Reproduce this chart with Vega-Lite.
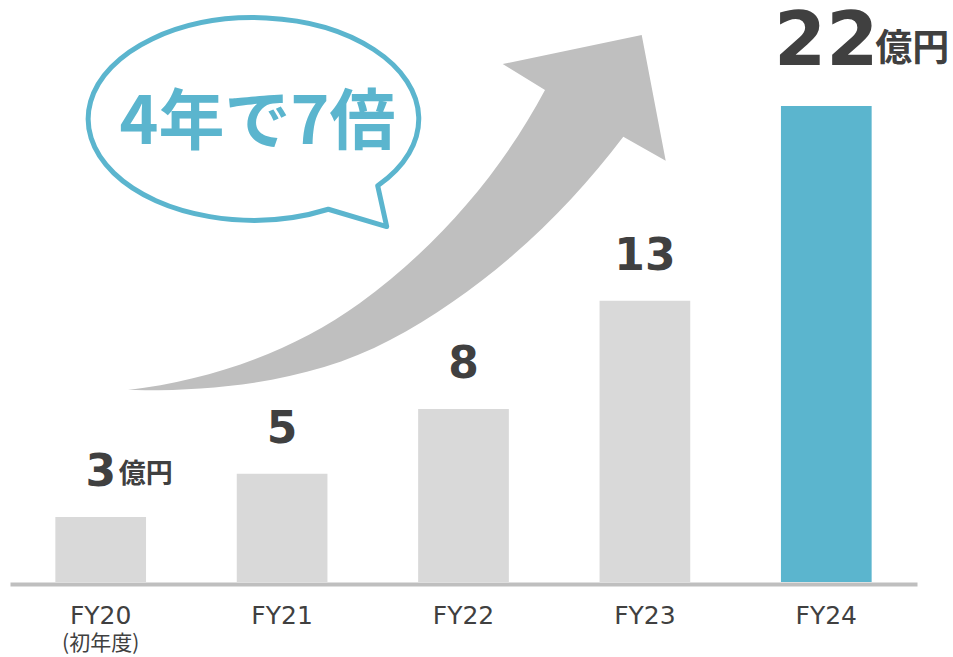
{
  "$schema": "https://vega.github.io/schema/vega-lite/v6.json",
  "width": 907,
  "height": 572,
  "autosize": {"type": "none"},
  "padding": {"left": 10, "top": 10, "right": 36, "bottom": 75},
  "background": "#ffffff",
  "config": {
    "view": {"stroke": null},
    "axisX": {
      "title": null,
      "ticks": false,
      "grid": false,
      "domainColor": "#BFBFBF",
      "domainWidth": 4,
      "offset": 2,
      "labelFont": "DejaVu Sans",
      "labelFontSize": 25,
      "labelColor": "#404040",
      "labelBaseline": "alphabetic",
      "labelPadding": 39,
      "labelAngle": 0
    }
  },
  "datasets": {
    "sales": [
      {"year": "FY20", "value": 3, "unit": "億円", "note": "(初年度)"},
      {"year": "FY21", "value": 5, "unit": "", "note": ""},
      {"year": "FY22", "value": 8, "unit": "", "note": ""},
      {"year": "FY23", "value": 13, "unit": "", "note": ""},
      {"year": "FY24", "value": 22, "unit": "億円", "note": ""}
    ],
    "arrow": [{"u": 3.1643, "v": 21.654}],
    "bubble": [{"u": 1.3671, "v": 21.492}],
    "bubbleText": [{"u": 1.3644, "v": 20.267, "label": "4年で7倍"}]
  },
  "layer": [
    {
      "layer": [
        {
          "data": {"name": "arrow"},
          "mark": {"type": "point", "shape": "M -456 276.5 C -373.6 266.7 -291.2 238.3 -224 189.5 C -148 134.2 -83.1 59.5 -39 -23.5 L -81.3 -49.5 L 57.7 -78.5 L 81.7 47.2 L 39.3 23.2 C -23 105.8 -103 178.1 -194 226.5 C -272.6 268.3 -367 278 -456 276.5 Z", "size": 4, "filled": true, "color": "#BFBFBF", "fill": "#BFBFBF", "strokeWidth": 0, "opacity": 1},
          "encoding": {
            "x": {"field": "u", "type": "quantitative", "scale": {"domain": [0, 5], "nice": false, "zero": false}, "axis": null},
            "y": {"field": "v", "type": "quantitative", "scale": {"domain": [0, 26.44], "nice": false, "zero": true}, "axis": null}
          }
        },
        {
          "data": {"name": "bubble"},
          "mark": {"type": "point", "shape": "M 119.7 68.7 A 165.3 101.3 0 1 0 70.3 92.2 L 128.7 109.5 Z", "size": 4, "filled": false, "fill": "#ffffff", "stroke": "#5BB5CE", "strokeWidth": 5, "strokeJoin": "round", "opacity": 1},
          "encoding": {
            "x": {"field": "u", "type": "quantitative", "scale": {"domain": [0, 5], "nice": false, "zero": false}, "axis": null},
            "y": {"field": "v", "type": "quantitative", "scale": {"domain": [0, 26.44], "nice": false, "zero": true}, "axis": null}
          }
        },
        {
          "data": {"name": "bubbleText"},
          "mark": {"type": "text", "font": "Noto Sans CJK JP", "fontWeight": "bold", "fontSize": 66, "color": "#5BB5CE", "align": "center", "baseline": "alphabetic"},
          "encoding": {
            "x": {"field": "u", "type": "quantitative", "scale": {"domain": [0, 5], "nice": false, "zero": false}, "axis": null},
            "y": {"field": "v", "type": "quantitative", "scale": {"domain": [0, 26.44], "nice": false, "zero": true}, "axis": null},
            "text": {"field": "label"}
          }
        }
      ]
    },
    {
      "data": {"name": "sales"},
      "encoding": {
        "x": {"field": "year", "type": "nominal", "sort": null, "scale": {"paddingInner": 0.5, "paddingOuter": 0.25}}
      },
      "layer": [
        {
          "mark": {"type": "bar"},
          "encoding": {
            "y": {"field": "value", "type": "quantitative", "scale": {"domain": [0, 26.44], "nice": false, "zero": true}, "axis": null},
            "color": {"condition": {"test": "datum.year === 'FY24'", "value": "#5BB5CE"}, "value": "#D9D9D9"}
          }
        },
        {
          "transform": [{"filter": "datum.year !== 'FY24'"}],
          "mark": {"type": "text", "font": "DejaVu Sans", "fontWeight": "bold", "fontSize": 44, "color": "#404040", "align": "center", "baseline": "alphabetic", "dy": -31},
          "encoding": {
            "y": {"field": "value", "type": "quantitative", "scale": {"domain": [0, 26.44], "nice": false, "zero": true}, "axis": null},
            "text": {"field": "value"}
          }
        },
        {
          "transform": [{"filter": "datum.year === 'FY24'"}],
          "mark": {"type": "text", "font": "DejaVu Sans", "fontWeight": "bold", "fontSize": 75, "color": "#404040", "align": "center", "baseline": "alphabetic", "dy": -41},
          "encoding": {
            "y": {"field": "value", "type": "quantitative", "scale": {"domain": [0, 26.44], "nice": false, "zero": true}, "axis": null},
            "text": {"field": "value"}
          }
        },
        {
          "transform": [{"filter": "datum.unit !== '' && datum.year !== 'FY24'"}],
          "mark": {"type": "text", "font": "Noto Sans CJK JP", "fontWeight": "bold", "fontSize": 27, "color": "#404040", "align": "left", "baseline": "alphabetic", "dx": 18, "dy": -34},
          "encoding": {
            "y": {"field": "value", "type": "quantitative", "scale": {"domain": [0, 26.44], "nice": false, "zero": true}, "axis": null},
            "text": {"field": "unit"}
          }
        },
        {
          "transform": [{"filter": "datum.unit !== '' && datum.year === 'FY24'"}],
          "mark": {"type": "text", "font": "Noto Sans CJK JP", "fontWeight": "bold", "fontSize": 37, "color": "#404040", "align": "left", "baseline": "alphabetic", "dx": 49, "dy": -45},
          "encoding": {
            "y": {"field": "value", "type": "quantitative", "scale": {"domain": [0, 26.44], "nice": false, "zero": true}, "axis": null},
            "text": {"field": "unit"}
          }
        },
        {
          "transform": [{"filter": "datum.note !== ''"}],
          "mark": {"type": "text", "font": "Noto Sans CJK JP", "fontSize": 21, "color": "#404040", "align": "center", "baseline": "alphabetic"},
          "encoding": {
            "y": {"datum": -3.15, "type": "quantitative", "scale": {"domain": [0, 26.44], "nice": false, "zero": true}, "axis": null},
            "text": {"field": "note"}
          }
        }
      ]
    }
  ],
  "resolve": {"scale": {"x": "independent"}, "axis": {"x": "independent"}}
}
